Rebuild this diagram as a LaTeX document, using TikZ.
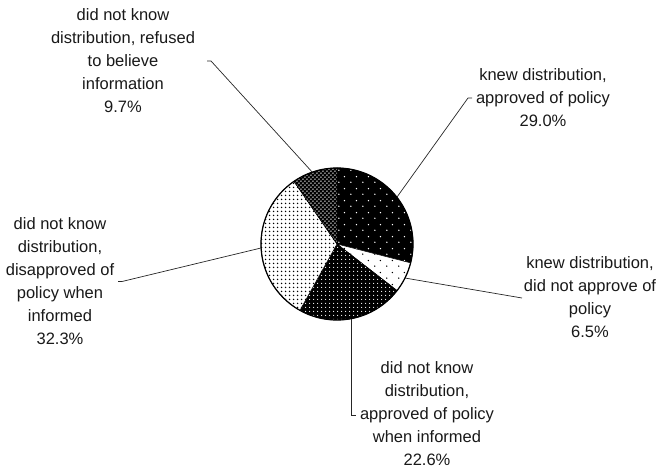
\documentclass[tikz,border=0pt]{standalone}
\usepackage{fontspec}
\setmainfont{Liberation Sans}
\usetikzlibrary{patterns.meta}
\tikzdeclarepattern{name=sparsedots, type=uncolored,
  bounding box={(0pt,0pt) and (12pt,12pt)}, tile size={(12pt,12pt)},
  code={\fill (3pt,3pt) circle (0.8pt); \fill (9pt,9pt) circle (0.8pt);}}
\tikzdeclarepattern{name=densedots, type=uncolored,
  bounding box={(0pt,0pt) and (4pt,4pt)}, tile size={(4pt,4pt)},
  code={\fill (2pt,2pt) circle (0.75pt);}}
\tikzdeclarepattern{name=densedotsbig, type=uncolored,
  bounding box={(0pt,0pt) and (4pt,4pt)}, tile size={(4pt,4pt)},
  code={\fill (2pt,2pt) circle (0.95pt);}}
\tikzdeclarepattern{name=hatchdots, type=uncolored,
  bounding box={(0pt,0pt) and (4.4pt,4.4pt)}, tile size={(4.4pt,4.4pt)},
  code={\fill (1.1pt,1.1pt) circle (0.85pt); \fill (3.3pt,3.3pt) circle (0.85pt);}}
\begin{document}
\begin{tikzpicture}[x=1pt,y=1pt,
  lbl/.style={font=\fontsize{16.5}{23}\selectfont, align=center, inner sep=0pt, text=black!90},
  leader/.style={draw=black!85, line width=0.7pt},
  slice/.style={draw=black, line width=0.5pt}]
\useasboundingbox (0,0) rectangle (661,472);
\coordinate (c) at (337,228);
\def\r{76}
% slices
\path[slice, preaction={fill=black}, pattern=sparsedots, pattern color=white]
  (c) -- +(90:\r) arc[start angle=90, end angle=-14.4, radius=\r] -- cycle;
\path[slice, fill=white, postaction={pattern=sparsedots, pattern color=black}]
  (c) -- +(-14.4:\r) arc[start angle=-14.4, end angle=-37.8, radius=\r] -- cycle;
\path[slice, preaction={fill=black}, pattern=densedots, pattern color=white]
  (c) -- +(-37.8:\r) arc[start angle=-37.8, end angle=-119.2, radius=\r] -- cycle;
\path[slice, fill=white, postaction={pattern=densedotsbig, pattern color=black}]
  (c) -- +(-119.2:\r) arc[start angle=-119.2, end angle=-235.5, radius=\r] -- cycle;
\path[slice, preaction={fill=black}, pattern=hatchdots, pattern color=white]
  (c) -- +(124.5:\r) arc[start angle=124.5, end angle=90, radius=\r] -- cycle;
\draw[black, line width=1.2pt] (c) circle[radius=\r];
% edge points
\path (c) ++(109:\r) coordinate (e1);
\path (c) ++(38:\r) coordinate (e2);
\path (c) ++(-26.6:\r) coordinate (e3);
\path (c) ++(-79:\r) coordinate (e4);
\path (c) ++(183:\r) coordinate (e5);
% labels
\node[lbl] (l1) at (123,411) {did not know\\distribution, refused\\to believe\\information\\9.7\%};
\node[lbl] (l2) at (543,374) {knew distribution,\\approved of policy\\29.0\%};
\node[lbl] (l3) at (590,175) {knew distribution,\\did not approve of\\policy\\6.5\%};
\node[lbl] (l4) at (427,58) {did not know\\distribution,\\approved of policy\\when informed\\22.6\%};
\node[lbl] (l5) at (60,191) {did not know\\distribution,\\disapproved of\\policy when\\informed\\32.3\%};
% leader ends
\coordinate (t1) at (207,411);
\coordinate (t2) at (472,374);
\coordinate (t3) at (522,174);
\coordinate (t4) at (356,57);
\coordinate (t5) at (118,190.5);
\draw[leader] (t1) -- ++(4,0) -- (e1);
\draw[leader] (t2) -- ++(-4,0) -- (e2);
\draw[leader] (e3) -- (t3);
\draw[leader] (e4) -- (e4 |- t4) -- (t4);
\draw[leader] (t5) -- ++(4,0) -- (e5);
\end{tikzpicture}
\end{document}
